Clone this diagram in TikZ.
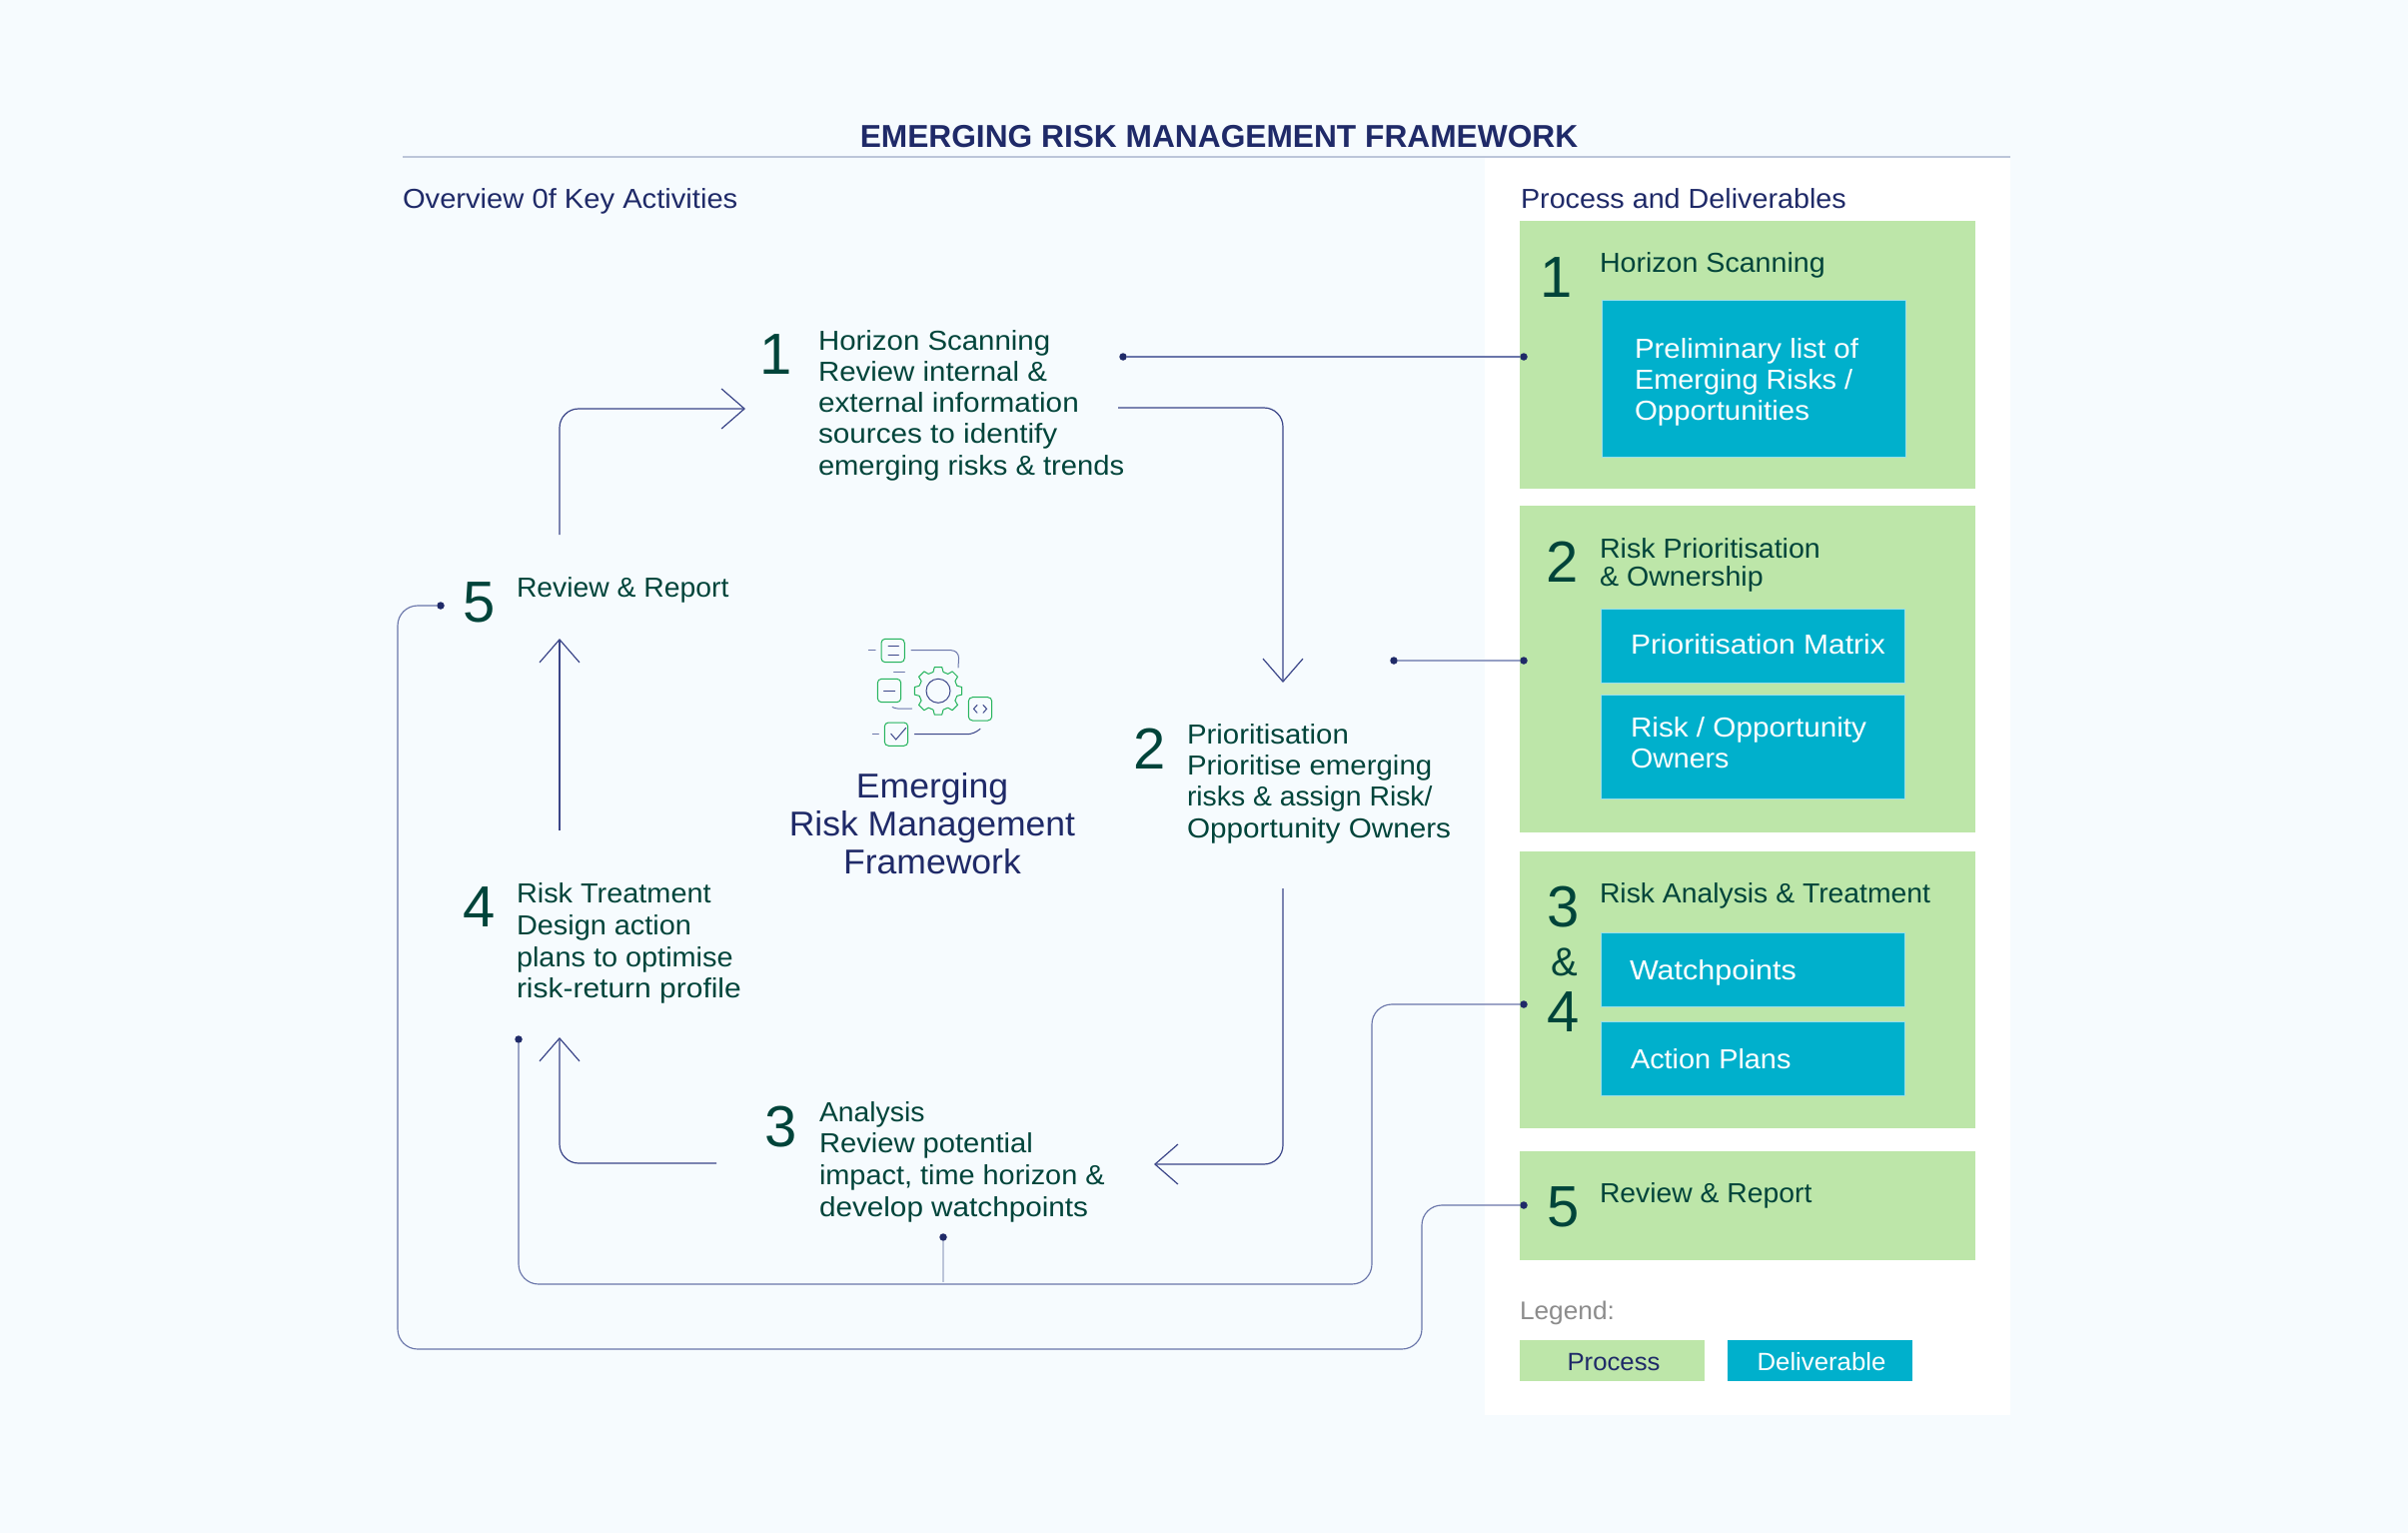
\documentclass[tikz,border=0pt]{standalone}
\usepackage{fontspec}
\setmainfont{Liberation Sans}
\usetikzlibrary{arrows.meta}
\definecolor{bgc}{HTML}{F6FBFE}
\definecolor{navy}{HTML}{1F2A68}
\definecolor{tdark}{HTML}{00443A}
\definecolor{pgreen}{HTML}{BDE6A9}
\definecolor{dblue}{HTML}{00B0CC}
\definecolor{rulec}{HTML}{BCC5D9}
\definecolor{linec}{HTML}{6A76AA}
\definecolor{linel}{HTML}{959FC4}
\definecolor{arrc}{HTML}{3A4588}
\definecolor{icong}{HTML}{22B35A}
\tikzset{
  x=1pt,y=-1pt,
  fw/.style={execute at begin node=\addfontfeature{FakeStretch=#1}},
  txt/.style={anchor=base west,inner sep=0pt,outer sep=0pt,align=left,text=tdark,font=\fontsize{27.5}{31}\selectfont},
  head/.style={txt,text=navy},
  dlab/.style={txt,text=white},
  num/.style={txt,font=\fontsize{58}{58}\selectfont},
  ctr/.style={anchor=base,inner sep=0pt,text=navy,font=\fontsize{34.5}{38}\selectfont,fw=1.03},
  lgt/.style={anchor=base,inner sep=0pt,font=\fontsize{25}{30}\selectfont,fw=1.03},
  procbox/.style={anchor=north west,fill=pgreen,inner sep=0pt,outer sep=0pt},
  delbox/.style={anchor=north west,fill=dblue,draw=white!60!dblue,line width=0.8pt,inner sep=0pt,outer sep=0pt},
  dotn/.style={circle,fill=navy,inner sep=0pt,outer sep=0pt,minimum size=7.5pt},
  conn/.style={draw=linec,line width=1.15pt,rounded corners=20pt},
  flow/.style={draw=arrc,line width=1.2pt,rounded corners=19pt,-{Straight Barb[length=23pt,width=40pt,line width=1.2pt]}},
  iconbox/.style={draw=icong,line width=1pt,rounded corners=4pt},
  iconline/.style={draw=arrc,line width=1pt,line cap=round},
}
\begin{document}
\begin{tikzpicture}
\useasboundingbox (0,0) rectangle (2410,1534);
\fill[bgc] (0,0) rectangle (2410,1534);
\fill[white] (1486,157) rectangle (2012,1416);
\draw[rulec,line width=1.6pt] (403,157) -- (2012,157);
\node[anchor=base,inner sep=0pt,text=navy,font=\fontsize{31.7}{36}\selectfont\bfseries] (title) at (1220,147) {EMERGING RISK MANAGEMENT FRAMEWORK};
\node[head,fw=1.06] (ov) at (403,208) {Overview 0f Key Activities};
\node[head,fw=1.045] (pd) at (1522,208) {Process and Deliverables};

% process boxes
\node[procbox,minimum width=456pt,minimum height=268pt] (p1) at (1521,221) {};
\node[procbox,minimum width=456pt,minimum height=327pt] (p2) at (1521,506) {};
\node[procbox,minimum width=456pt,minimum height=277pt] (p3) at (1521,852) {};
\node[procbox,minimum width=456pt,minimum height=109pt] (p5) at (1521,1152) {};
% deliverable boxes
\node[delbox,minimum width=304pt,minimum height=157pt] (d1) at (1603,300) {};
\node[delbox,minimum width=304pt,minimum height=74pt] (d2a) at (1602,609) {};
\node[delbox,minimum width=304pt,minimum height=104pt] (d2b) at (1602,695) {};
\node[delbox,minimum width=304pt,minimum height=74pt] (d3a) at (1602,933) {};
\node[delbox,minimum width=304pt,minimum height=74pt] (d3b) at (1602,1022) {};
% right-hand texts
\node[num] (rn1) at (1541,297) {1};
\node[txt,fw=1.04] (rt1) at (1601,272) {Horizon Scanning};
\node[dlab,fw=1.07] (dl1a) at (1636,358) {Preliminary list of};
\node[dlab,fw=1.05] (dl1b) at (1636,389) {Emerging Risks /};
\node[dlab,fw=1.07] (dl1c) at (1636,420) {Opportunities};
\node[num] (rn2) at (1547,582) {2};
\node[txt,fw=1.04] (rt2a) at (1601,558) {Risk Prioritisation};
\node[txt,fw=1.04] (rt2b) at (1601,586) {\&\ Ownership};
\node[dlab,fw=1.09] (dl2a) at (1632,654) {Prioritisation Matrix};
\node[dlab,fw=1.08] (dl2b) at (1632,737) {Risk / Opportunity};
\node[dlab,fw=1.04] (dl2c) at (1632,768) {Owners};
\node[num] (rn3) at (1548,927) {3};
\node[anchor=base,inner sep=0pt,text=tdark,font=\fontsize{40}{40}\selectfont] (rnamp) at (1566,976) {\&};
\node[num] (rn4) at (1548,1032) {4};
\node[txt,fw=1.03] (rt3) at (1601,903) {Risk Analysis \&\ Treatment};
\node[dlab,fw=1.11] (dl3a) at (1631,980) {Watchpoints};
\node[dlab,fw=1.05] (dl3b) at (1632,1069) {Action Plans};
\node[num] (rn5) at (1548,1227) {5};
\node[txt,fw=1.03] (rt5) at (1601,1203) {Review \&\ Report};
% legend
\node[txt,text=black!45,font=\fontsize{25.5}{30}\selectfont,fw=1.03] (lg) at (1521,1320) {Legend:};
\node[procbox,minimum width=185pt,minimum height=41pt] (lgp) at (1521,1341) {};
\node[anchor=north west,fill=dblue,inner sep=0pt,minimum width=185pt,minimum height=41pt] (lgd) at (1729,1341) {};
\node[lgt,text=navy] (lgpt) at (1615,1371) {Process};
\node[lgt,text=white] (lgdt) at (1823,1371) {Deliverable};

% cycle texts
\node[num] (n1) at (760,374) {1};
\node[txt,fw=1.07] (t1a) at (819,350) {Horizon Scanning};
\node[txt,fw=1.07] (t1b) at (819,381) {Review internal \&};
\node[txt,fw=1.08] (t1c) at (819,412) {external information};
\node[txt,fw=1.08] (t1d) at (819,443) {sources to identify};
\node[txt,fw=1.06] (t1e) at (819,475) {emerging risks \&\ trends};
\node[num] (n2) at (1134,769) {2};
\node[txt,fw=1.07] (t2a) at (1188,744) {Prioritisation};
\node[txt,fw=1.07] (t2b) at (1188,775) {Prioritise emerging};
\node[txt,fw=1.03] (t2c) at (1188,806) {risks \&\ assign Risk/};
\node[txt,fw=1.08] (t2d) at (1188,838) {Opportunity Owners};
\node[num] (n3) at (765,1147) {3};
\node[txt,fw=1.03] (t3a) at (820,1122) {Analysis};
\node[txt,fw=1.06] (t3b) at (820,1153) {Review potential};
\node[txt,fw=1.05] (t3c) at (820,1185) {impact, time horizon \&};
\node[txt,fw=1.08] (t3d) at (820,1217) {develop watchpoints};
\node[num] (n4) at (463,927) {4};
\node[txt,fw=1.05] (t4a) at (517,903) {Risk Treatment};
\node[txt,fw=1.05] (t4b) at (517,935) {Design action};
\node[txt,fw=1.05] (t4c) at (517,967) {plans to optimise};
\node[txt,fw=1.09] (t4d) at (517,998) {risk-return profile};
\node[num] (n5) at (463,622) {5};
\node[txt,fw=1.03] (t5) at (517,597) {Review \&\ Report};
% centre
\node[ctr] (ca) at (933,798) {Emerging};
\node[ctr] (cb) at (933,836) {Risk Management};
\node[ctr] (cc) at (933,874) {Framework};

% dots
\node[dotn] (a1) at (1124,357) {};
\node[dotn] (b1) at (1525,357) {};
\node[dotn] (a2) at (1395,661) {};
\node[dotn] (b2) at (1525,661) {};
\node[dotn] (a4) at (519,1040) {};
\node[dotn] (b4) at (1525,1005) {};
\node[dotn] (a5) at (441,606) {};
\node[dotn] (b5) at (1525,1206) {};
\node[dotn] (a3) at (944,1238) {};
\coordinate (a3e) at (944,1283);
\coordinate (k4a) at (519,1285);
\coordinate (k4b) at (1373,1005);
\coordinate (k5a) at (398,1350);
\coordinate (k5b) at (1423,1206);
\draw[conn] (a1) -- (b1);
\draw[conn,draw=linel] (a2) -- (b2);
\draw[conn] (a4) |- (k4b |- k4a) -- (k4b) -- (b4);
\draw[conn] (a5) -| (k5a) -| (k5b) -- (b5);
\draw[conn,draw=rulec] (a3) -- (a3e);

% flow arrows
\coordinate (f1s) at (1119,408); \coordinate (f1k) at (1284,408); \coordinate (f1e) at (1284,683);
\coordinate (f2s) at (1284,889); \coordinate (f2k) at (1284,1165); \coordinate (f2e) at (1155,1165);
\coordinate (f3s) at (717,1164); \coordinate (f3k) at (560,1164); \coordinate (f3e) at (560,1038);
\coordinate (f4s) at (560,831); \coordinate (f4e) at (560,639);
\coordinate (f5s) at (560,535); \coordinate (f5k) at (560,409); \coordinate (f5e) at (746,409);
\draw[flow] (f1s) -- (f1k) -- (f1e);
\draw[flow] (f2s) -- (f2k) -- (f2e);
\draw[flow] (f3s) -- (f3k) -- (f3e);
\draw[flow] (f4s) -- (f4e);
\draw[flow] (f5s) -- (f5k) -- (f5e);

% icon
\draw[iconbox] (882,639.3) rectangle (905.3,662.7);
\draw[iconline] (889,646.7) -- (899.3,646.7) (889,655) -- (899.3,655);
\draw[iconline,draw=linec] (869.3,650.7) -- (876,650.7);
\draw[iconline,draw=linec,rounded corners=8pt] (912,650.7) -- (960,650.7) -- (959,668);
\draw[iconbox] (878.3,679.3) rectangle (901.7,702.7);
\draw[iconline] (884.7,691) -- (895.7,691);
\draw[iconline,draw=linec] (894.7,672.7) -- (905.3,672.7);
\draw[iconline,draw=linec,rounded corners=3pt] (893.3,707.7) -- (895.5,709) -- (912.7,709);
\begin{scope}[shift={(939,691.3)}]
\foreach \a in {0,45,...,315}{
  \draw[icong,line width=1pt,line join=round] (\a-15:19.5pt) -- (\a-9:24pt) -- (\a+9:24pt) -- (\a+15:19.5pt) -- (\a+30:19.5pt);
}
\draw[arrc,line width=1pt] (0,0) circle (12pt);
\end{scope}
\draw[iconbox] (969.3,697.7) rectangle (992.7,721);
\draw[iconline] (978,705.5) -- (974.5,709.3) -- (978,713.3);
\draw[iconline] (984,705.5) -- (987.5,709.3) -- (984,713.3);
\draw[iconbox] (885.3,723) rectangle (908.7,746.3);
\draw[iconline] (891.7,734.3) -- (896.7,740) -- (906.7,728.3);
\draw[iconline,draw=linec] (873.3,734.7) -- (879.3,734.7);
\draw[iconline,rounded corners=7pt] (915.3,734.7) -- (975,734.7) -- (981,729.3);
\end{tikzpicture}
\end{document}
